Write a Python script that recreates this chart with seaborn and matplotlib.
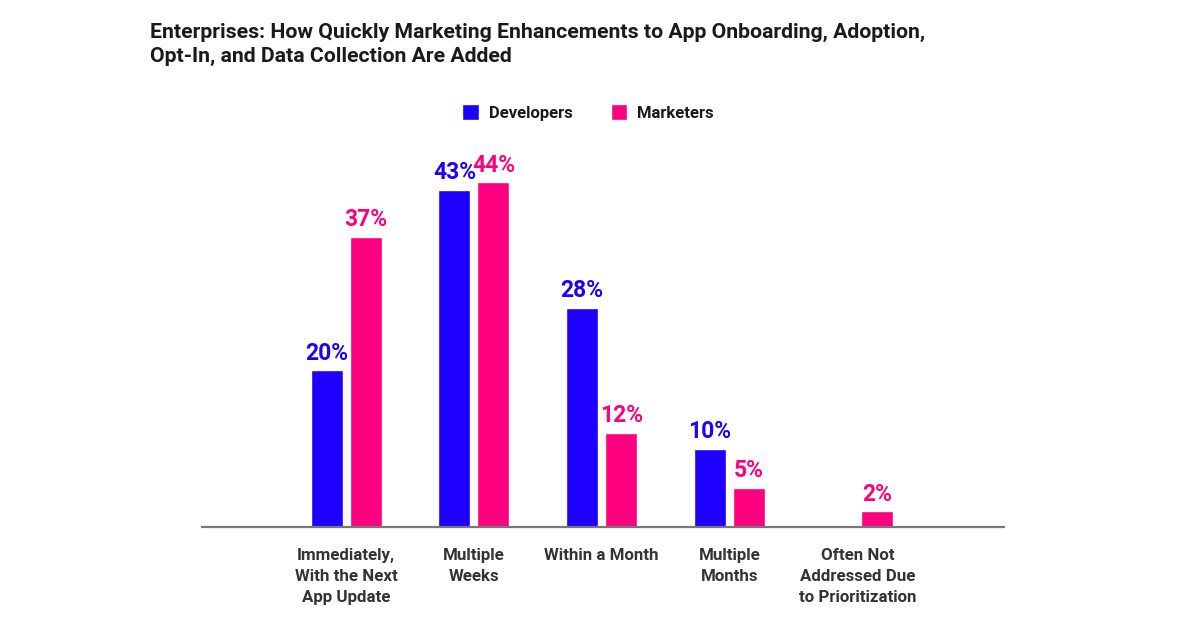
import numpy as np
import pandas as pd
import matplotlib.pyplot as plt
import seaborn as sns
from matplotlib.patches import Patch

# Chart data
categories = [
    "Immediately,\nWith the Next\nApp Update",
    "Multiple\nWeeks",
    "Within a Month",
    "Multiple\nMonths",
    "Often Not\nAddressed Due\nto Prioritization",
]
developers = [20, 43, 28, 10, np.nan]
marketers = [37, 44, 12, 5, 2]
series_names = ["Developers", "Marketers"]
colors = ["#1E00FF", "#FF0080"]

title = ("Enterprises: How Quickly Marketing Enhancements to App Onboarding, Adoption,\n"
         "Opt-In, and Data Collection Are Added")

df = pd.DataFrame({
    "category": categories * 2,
    "group": [series_names[0]] * len(categories) + [series_names[1]] * len(categories),
    "value": developers + marketers,
})

sns.set_theme(style="white")
plt.rcParams["font.family"] = ["Roboto", "DejaVu Sans"]

fig = plt.figure(figsize=(12, 6.27), dpi=100)
ax = fig.add_axes([0.168, 0.1595, 0.669, 0.625])

sns.barplot(
    data=df, x="category", y="value", hue="group",
    order=categories, hue_order=series_names,
    palette=colors, width=0.61, gap=0.18, saturation=1,
    ax=ax, legend=False,
)

# value labels above bars
for cont, col in zip(ax.containers, colors):
    for bar in cont:
        h = bar.get_height()
        if np.isnan(h):
            continue
        ax.annotate(f"{h:.0f}%", (bar.get_x() + bar.get_width() / 2, h),
                    xytext=(0, 4), textcoords="offset points",
                    ha="center", va="bottom", color=col,
                    fontsize=16.5, fontweight="bold")

ax.set_xlim(-1.13, 5.15)
ax.set_ylim(0, 50)
ax.set_xlabel("")
ax.set_ylabel("")
ax.set_yticks([])
ax.tick_params(axis="x", length=0, pad=15)
for lab in ax.get_xticklabels():
    lab.set_fontsize(12.2)
    lab.set_fontweight("bold")
    lab.set_color("#333333")
    lab.set_linespacing(1.5)
    lab.set_verticalalignment("top")

for s in ["top", "right", "left"]:
    ax.spines[s].set_visible(False)
ax.spines["bottom"].set_color("#777777")
ax.spines["bottom"].set_linewidth(1.6)

fig.text(0.125, 0.963, title, ha="left", va="top", fontsize=15.3,
         fontweight="bold", color="#1a1a1a", linespacing=1.3)

handles = [Patch(facecolor=c, label=n) for c, n in zip(colors, series_names)]
leg = fig.legend(handles=handles, loc="center", bbox_to_anchor=(0.49, 0.821),
                 ncol=2, frameon=False, fontsize=12, handlelength=1.0,
                 handleheight=1.1, handletextpad=0.6, columnspacing=2.3)
for t in leg.get_texts():
    t.set_fontweight("bold")
    t.set_color("#1a1a1a")

fig.savefig("out.png", dpi=100)
